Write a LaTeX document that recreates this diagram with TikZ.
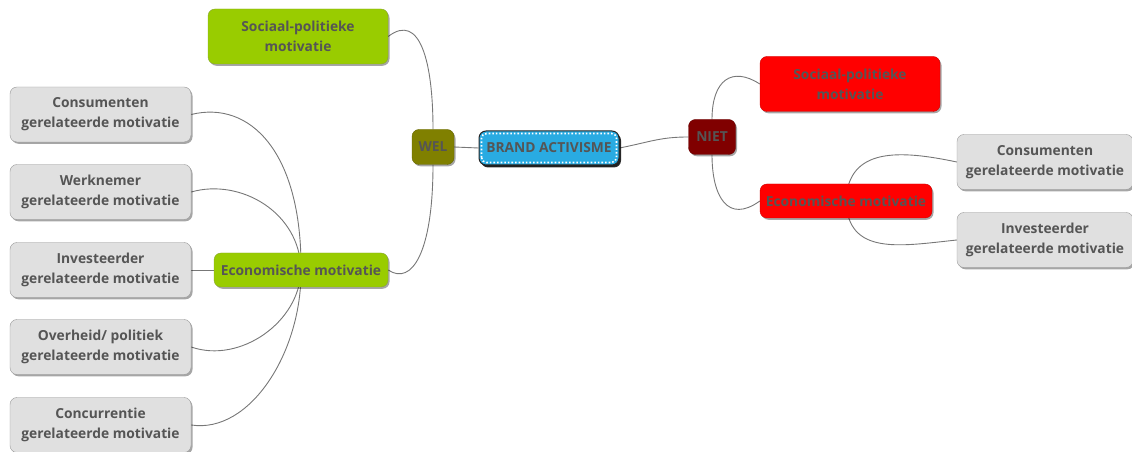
\documentclass[tikz,border=0pt]{standalone}
\usepackage{fontspec}
\setmainfont{Open Sans}
\usetikzlibrary{shadows,calc}
\pgfdeclarelayer{background}
\pgfsetlayers{background,main}
\definecolor{txt}{HTML}{555555}
\definecolor{lime}{HTML}{99CC00}
\definecolor{olive}{HTML}{808000}
\definecolor{sky}{HTML}{29ABE2}
\definecolor{maroon}{HTML}{800000}
\definecolor{grayfill}{HTML}{E0E0E0}
\definecolor{linecol}{HTML}{777777}
\tikzset{
  box/.style={rounded corners=7pt, font=\bfseries\fontsize{13.8}{20}\selectfont, text=txt, align=center, inner sep=2pt,
    drop shadow={shadow xshift=1.5pt, shadow yshift=-1.8pt, fill=black, opacity=0.35}},
  greenbox/.style={box, fill=lime, draw=lime!70!black!80},
  redbox/.style={box, fill=red, draw=red!80!black},
  graybox/.style={box, fill=grayfill, draw=gray!80, minimum width=181pt, minimum height=55pt},
  conn/.style={draw=linecol, line width=0.9pt}
}
\begin{document}
\begin{tikzpicture}[x=1pt,y=1pt]
\useasboundingbox (0,0) rectangle (1132,452);
% left green
\node[greenbox, minimum width=180pt, minimum height=55pt] (sp1) at (298,415.5) {Sociaal-politieke\\motivatie};
\node[box, fill=olive, draw=olive!80!black, minimum width=42pt, minimum height=35pt] (wel) at (433,305) {WEL};
\node[box, fill=sky, draw=black!85, line width=1pt, minimum width=140pt, minimum height=34pt,
  drop shadow={shadow xshift=2pt, shadow yshift=-2.5pt, fill=black, opacity=0.8}] (ba) at (549,304) {BRAND ACTIVISME};
\draw[white, dotted, line width=1.6pt, rounded corners=5pt] ($(ba.south west)+(3,3)$) rectangle ($(ba.north east)-(3,3)$);
\node[box, fill=maroon, draw=maroon!80!black, minimum width=47pt, minimum height=35pt] (niet) at (712,315) {NIET};
\node[redbox, minimum width=180pt, minimum height=55pt] (sp2) at (850,368) {Sociaal-politieke\\motivatie};
\node[redbox, minimum width=172pt, minimum height=34pt] (eco2) at (846,251) {Economische motivatie};
\node[graybox, minimum width=176pt] (c2) at (1045,290) {Consumenten\\gerelateerde motivatie};
\node[graybox, minimum width=176pt] (i2) at (1045,212) {Investeerder\\gerelateerde motivatie};
\node[greenbox, minimum width=174pt, minimum height=34pt] (eco1) at (301,182) {Economische motivatie};
\node[graybox] (g1) at (100.5,337.5) {Consumenten\\gerelateerde motivatie};
\node[graybox] (g2) at (100.5,260) {Werknemer\\gerelateerde motivatie};
\node[graybox] (g3) at (100.5,182) {Investeerder\\gerelateerde motivatie};
\node[graybox] (g4) at (100.5,105) {Overheid/ politiek\\gerelateerde motivatie};
\node[graybox] (g5) at (100.5,27) {Concurrentie\\gerelateerde motivatie};
\begin{pgfonlayer}{background}
\draw[conn] (sp1.east) .. controls (420,440) and (433,390) .. (wel.north);
\draw[conn] (eco1.east) .. controls (412,166) and (433,200) .. (wel.south);
\draw[conn] (wel.east) -- (ba.west);
\draw[conn] (ba.east) .. controls (650,310) and (660,315) .. (niet.west);
\draw[conn] (niet.north) .. controls (712,372) and (732,386) .. (sp2.west);
\draw[conn] (niet.south) .. controls (712,255) and (728,228) .. (eco2.west);
\draw[conn] (eco2.center) .. controls (848,305) and (900,302) .. (c2.west);
\draw[conn] (eco2.center) .. controls (848,196) and (900,206) .. (i2.west);
\draw[conn] (eco1.center) .. controls (302,300) and (250,352) .. (g1.east);
\draw[conn] (eco1.center) .. controls (300,240) and (240,274) .. (g2.east);
\draw[conn] (g3.east) -- (eco1.west);
\draw[conn] (eco1.center) .. controls (300,130) and (240,88) .. (g4.east);
\draw[conn] (eco1.center) .. controls (302,100) and (250,18) .. (g5.east);
\end{pgfonlayer}
\end{tikzpicture}
\end{document}
